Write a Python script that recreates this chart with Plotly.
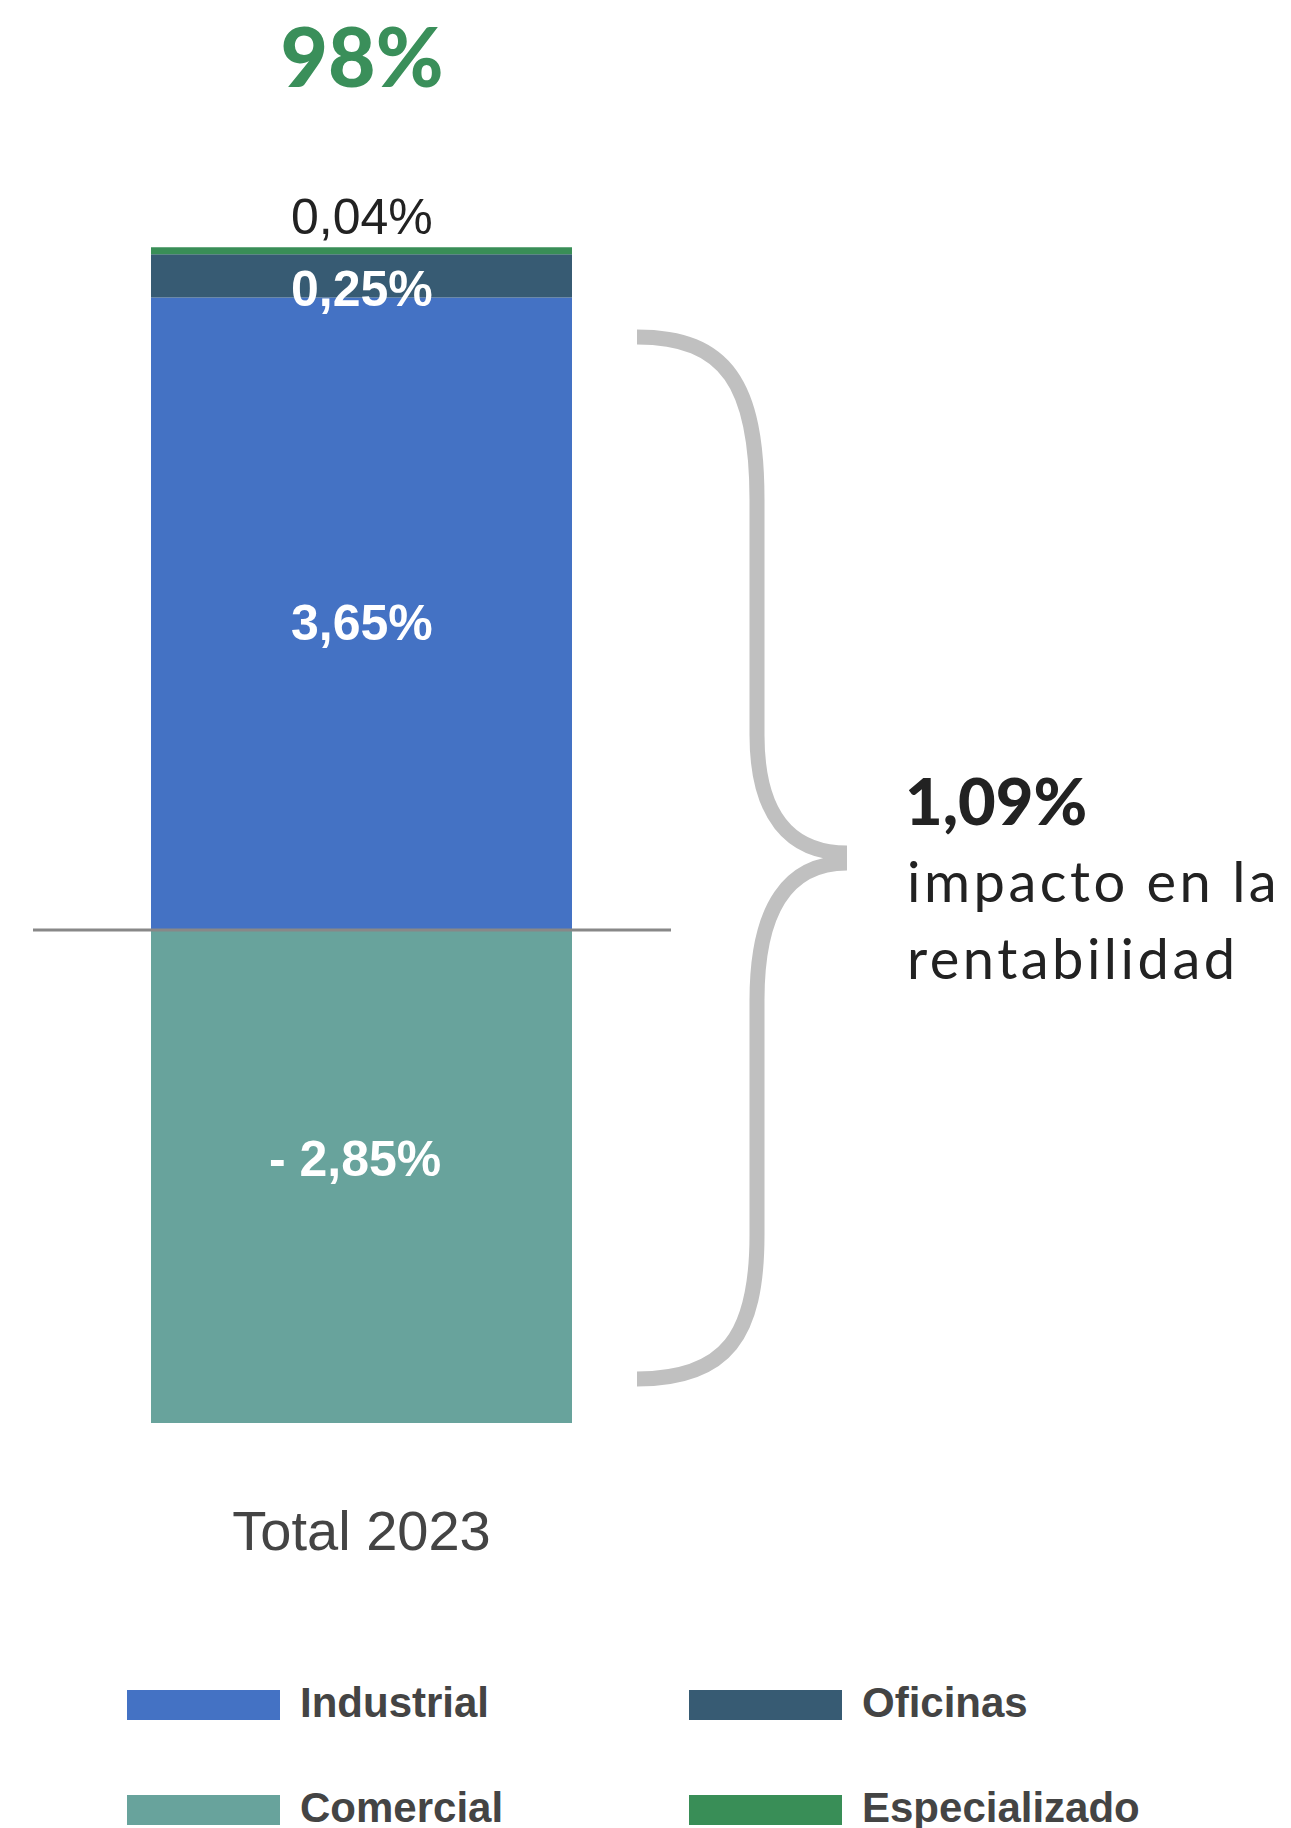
import plotly.graph_objects as go

# ---------------- data ----------------
categories = ["Total 2023"]
industrial = [3.65]
oficinas = [0.25]
especializado = [0.04]
comercial = [-2.85]
headline = "98%"
impact_caption = ["impacto en la", "rentabilidad"]

stack_order = ["Industrial", "Oficinas", "Especializado", "Comercial"]
legend_order = ["Industrial", "Oficinas", "Comercial", "Especializado"]
series_values = {
    "Industrial": industrial,
    "Oficinas": oficinas,
    "Especializado": especializado,
    "Comercial": comercial,
}

# ---------------- style ----------------
colors = {
    "Industrial": "#4472C4",
    "Oficinas": "#375B73",
    "Especializado": "#398E57",
    "Comercial": "#68A39C",
}
W, H = 1291, 1828
M_B = 405
PLOT_H = H - M_B
PX_PER_UNIT = 173.3
ZERO_PX = 930.0
BAR_CX, BAR_W = 361.5, 421.0

LABEL_FONT = "Liberation Sans, Arial, sans-serif"
HEAD_FONT = "Lato, Open Sans, sans-serif"


def fx(p):
    return p / W


def fy(p):
    return (PLOT_H - p) / PLOT_H


def fmt(v):
    s = f"{abs(v):.2f}".replace(".", ",") + "%"
    return ("- " + s) if v < 0 else s


fig = go.Figure()
for name in stack_order:
    fig.add_trace(go.Bar(
        x=categories, y=series_values[name], name=name, width=1,
        marker=dict(color=colors[name], line=dict(width=0)),
        showlegend=False, hovertemplate=name + ": %{y:.2f}%<extra></extra>",
    ))

ann = []
ind = industrial[0]
ofi = oficinas[0]
esp = especializado[0]
com = comercial[0]
top = ind + ofi + esp
total = ind + ofi + esp + com

white_bold = dict(family=LABEL_FONT, size=50, color="white", weight="bold")
ann.append(dict(x=categories[0], y=ind / 2, xref="x", yref="y", text="<b>" + fmt(ind) + "</b>",
                showarrow=False, font=white_bold, yshift=-9))
ann.append(dict(x=categories[0], y=ind + ofi / 2, xref="x", yref="y", text="<b>" + fmt(ofi) + "</b>",
                showarrow=False, font=white_bold, yshift=-13))
ann.append(dict(x=categories[0], y=top, xref="x", yref="y", text=fmt(esp),
                showarrow=False, font=dict(family=LABEL_FONT, size=50, color="#222222"), yshift=30))
ann.append(dict(x=categories[0], y=com / 2, xref="x", yref="y", text="<b>" + fmt(com) + "</b>",
                showarrow=False, font=white_bold, yshift=18, xshift=-7))

# impact text at right
ann.append(dict(x=fx(903), y=fy(800), xref="paper", yref="paper", xanchor="left", yanchor="middle",
                text=fmt(total), showarrow=False,
                font=dict(family=HEAD_FONT, size=65, color="#222222", weight=900)))
for i, line in enumerate(impact_caption):
    ann.append(dict(x=fx(905), y=fy(880 + 77 * i), xref="paper", yref="paper", xanchor="left",
                    yanchor="middle", showarrow=False,
                    text='<span style="letter-spacing:3.5px">' + line + "</span>",
                    font=dict(family=HEAD_FONT, size=56, color="#222222")))

# legend (manual, wide swatches)
shapes = []
col_x = [127, 689]
row_y = [1705, 1810]
for k, name in enumerate(legend_order):
    cx = col_x[k % 2]
    cy = row_y[k // 2]
    shapes.append(dict(type="rect", xref="paper", yref="paper",
                       x0=fx(cx), x1=fx(cx + 153), y0=fy(cy - 15), y1=fy(cy + 15),
                       fillcolor=colors[name], line=dict(width=0)))
    ann.append(dict(x=fx(cx + 171), y=fy(cy - 3), xref="paper", yref="paper", xanchor="left",
                    yanchor="middle", showarrow=False, text="<b>" + name + "</b>",
                    font=dict(family=LABEL_FONT, size=42, color="#444444")))

# zero reference line
shapes.append(dict(type="line", xref="paper", yref="y", x0=fx(33), x1=fx(671), y0=0, y1=0,
                   line=dict(color="#888888", width=3), layer="above"))

# curly brace
pts = [
    ("M", [(637, 337)]),
    ("C", [(727, 337), (757, 385), (757, 500)]),
    ("L", [(757, 735)]),
    ("C", [(757, 815), (790, 853), (847, 853)]),
    ("M", [(847, 863)]),
    ("C", [(790, 863), (757, 905), (757, 1000)]),
    ("L", [(757, 1235)]),
    ("C", [(757, 1335), (727, 1379), (637, 1379)]),
]
path = " ".join(cmd + " " + " ".join(f"{fx(a):.5f},{fy(b):.5f}" for a, b in p) for cmd, p in pts)
shapes.append(dict(type="path", xref="paper", yref="paper", path=path,
                   line=dict(color="#C0C0C0", width=15)))

x_lo = (0 - BAR_CX) / BAR_W
x_hi = (W - BAR_CX) / BAR_W
y_hi = ZERO_PX / PX_PER_UNIT
y_lo = y_hi - PLOT_H / PX_PER_UNIT

fig.update_layout(
    width=W, height=H,
    margin=dict(l=0, r=0, t=0, b=M_B, pad=0),
    paper_bgcolor="white", plot_bgcolor="white",
    barmode="relative",
    showlegend=False,
    title=dict(text=headline, x=fx(362), xanchor="center",
               y=1 - 58 / H, yanchor="middle",
               font=dict(family=HEAD_FONT, size=82, color="#3A8F5A", weight=900)),
    xaxis=dict(type="category", range=[x_lo, x_hi], showgrid=False, zeroline=False,
               showline=False, ticks="", ticklabelstandoff=70,
               tickfont=dict(family=LABEL_FONT, size=56, color="#444444"), fixedrange=True),
    yaxis=dict(range=[y_lo, y_hi], showgrid=False, zeroline=False, showline=False,
               showticklabels=False, ticks="", fixedrange=True),
    annotations=ann,
    shapes=shapes,
)

fig.write_html("out.html")
